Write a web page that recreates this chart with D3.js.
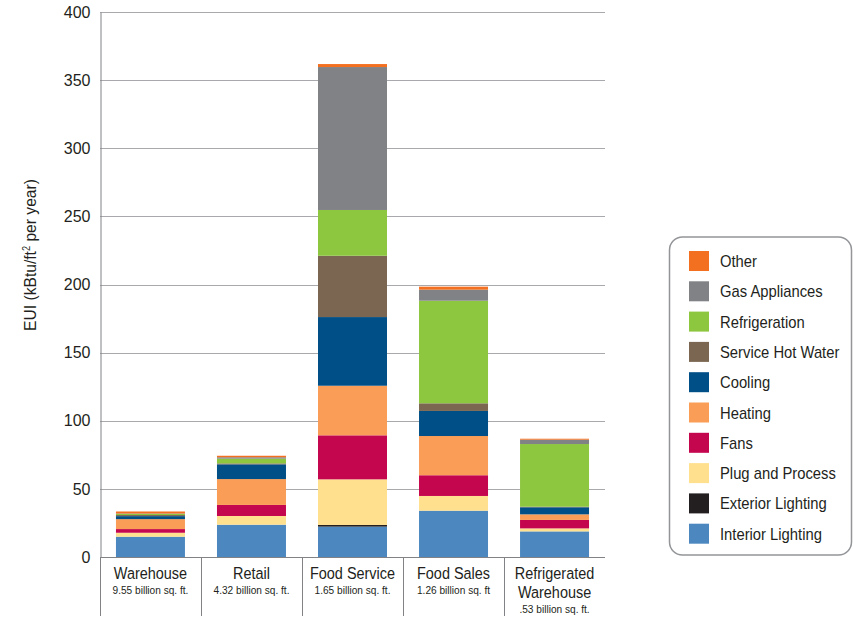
<!DOCTYPE html>
<html>
<head>
<meta charset="utf-8">
<script src="https://cdn.jsdelivr.net/npm/d3@7"></script>
<style>
  html, body { margin: 0; padding: 0; background: #fff; }
  svg { display: block; }
  text { font-family: "Liberation Sans", Arial, Helvetica, sans-serif; }
</style>
</head>
<body>
<svg id="chart" width="853" height="618"></svg>
<script>
// Building types and their floor area notes
const categories = ["Warehouse", "Retail", "Food Service", "Food Sales", "Refrigerated Warehouse"];
const categoryLines = [["Warehouse"], ["Retail"], ["Food Service"], ["Food Sales"], ["Refrigerated", "Warehouse"]];
const floorArea = ["9.55 billion sq. ft.", "4.32 billion sq. ft.", "1.65 billion sq. ft.", "1.26 billion sq. ft", ".53 billion sq. ft."];

// End uses, stacked bottom to top
const endUses = ["Interior Lighting", "Exterior Lighting", "Plug and Process", "Fans", "Heating",
                 "Cooling", "Service Hot Water", "Refrigeration", "Gas Appliances", "Other"];
const endUseColors = ["#4c88bf", "#231f20", "#ffe08f", "#c4064f", "#f99d57",
                      "#004f86", "#7a6651", "#8dc63f", "#808285", "#f37021"];

// EUI (kBtu/ft² per year) per end use, one value per building type
const interiorLighting = [14.9, 23.7, 22.3, 34.0, 18.8];
const exteriorLighting = [0.0, 0.0, 1.2, 0.0, 0.0];
const plugAndProcess   = [2.9, 6.4, 33.5, 10.8, 2.2];
const fans             = [2.7, 8.1, 32.3, 15.2, 6.2];
const heating          = [7.3, 19.0, 36.4, 28.8, 4.1];
const cooling          = [2.2, 10.8, 50.4, 18.4, 5.2];
const serviceHotWater  = [0.8, 0.7, 45.0, 5.6, 0.4];
const refrigeration    = [0.8, 3.5, 33.6, 75.3, 46.0];
const gasAppliances    = [0.3, 1.0, 104.9, 8.1, 3.2];
const other            = [1.5, 1.1, 2.2, 2.2, 0.7];

const yTicks = [0, 50, 100, 150, 200, 250, 300, 350, 400];

const seriesValues = [interiorLighting, exteriorLighting, plugAndProcess, fans, heating,
                      cooling, serviceHotWater, refrigeration, gasAppliances, other];

const rows = categories.map((c, i) => {
  const r = { category: c };
  endUses.forEach((u, k) => { r[u] = seriesValues[k][i]; });
  return r;
});

const svg = d3.select("#chart");
const plotLeft = 100, plotRight = 605, plotTop = 12, plotBottom = 557;
const ink = "#231f20";

// Condensed text: regular face squeezed horizontally
function narrowText(parent, tx, ty, str, size, anchor, sx = 0.86) {
  return parent.append("text")
    .attr("transform", `translate(${tx},${ty}) scale(${sx},1)`)
    .attr("text-anchor", anchor)
    .attr("font-size", size)
    .attr("fill", ink)
    .text(str);
}

const x = d3.scaleBand().domain(categories).range([plotLeft, plotRight])
  .paddingInner(0.317).paddingOuter(0.158);
const y = d3.scaleLinear().domain([0, 400]).range([plotBottom, plotTop]);
const color = d3.scaleOrdinal().domain(endUses).range(endUseColors);

// Horizontal gridlines
svg.append("g")
  .selectAll("line").data(yTicks.filter(t => t > 0)).join("line")
  .attr("x1", plotLeft).attr("x2", plotRight)
  .attr("y1", d => Math.round(y(d)) + 0.5).attr("y2", d => Math.round(y(d)) + 0.5)
  .attr("stroke", "#a7a9ac").attr("stroke-width", 1);

// Y axis
const yAxis = svg.append("g")
  .attr("transform", `translate(${plotLeft + 0.5},0)`)
  .call(d3.axisLeft(y).tickValues(yTicks).tickSize(0).tickPadding(10));
yAxis.select(".domain").attr("stroke", "#808285");
yAxis.selectAll("text")
  .attr("font-family", "Liberation Sans, Arial, sans-serif")
  .attr("font-size", 16).attr("fill", ink);

// Y axis title
svg.append("text")
  .attr("transform", "translate(36,255) rotate(-90) scale(0.92,1)")
  .attr("text-anchor", "middle")
  .attr("font-size", 17).attr("fill", ink)
  .call(t => {
    t.append("tspan").text("EUI (kBtu/ft");
    t.append("tspan").attr("font-size", 10).attr("dy", -6).text("2");
    t.append("tspan").attr("dy", 6).text(" per year)");
  });

// Stacked bars
const stacked = d3.stack().keys(endUses)(rows);
svg.append("g")
  .selectAll("g").data(stacked).join("g")
  .attr("fill", d => color(d.key))
  .selectAll("rect").data(d => d).join("rect")
  .attr("x", d => x(d.data.category))
  .attr("width", x.bandwidth())
  .attr("y", d => y(d[1]))
  .attr("height", d => Math.max(0, y(d[0]) - y(d[1])));

// Baseline and category dividers
svg.append("line")
  .attr("x1", plotLeft).attr("x2", plotRight)
  .attr("y1", plotBottom + 0.5).attr("y2", plotBottom + 0.5)
  .attr("stroke", "#808285");
const step = x.step();
svg.append("g")
  .selectAll("line").data(d3.range(5)).join("line")
  .attr("x1", i => Math.round(plotLeft + i * step) + 0.5)
  .attr("x2", i => Math.round(plotLeft + i * step) + 0.5)
  .attr("y1", plotBottom).attr("y2", 616)
  .attr("stroke", "#808285");

// Category labels
const labels = svg.append("g");
categories.forEach((c, i) => {
  const cx = x(c) + x.bandwidth() / 2;
  const lines = categoryLines[i];
  lines.forEach((ln, j) => narrowText(labels, cx, 579 + j * 19, ln, 17, "middle", 0.85));
  narrowText(labels, cx, 579 + (lines.length - 1) * 19 + 15, floorArea[i], 11.5, "middle", 0.88);
});

// Legend
const legend = svg.append("g");
legend.append("rect")
  .attr("x", 669.5).attr("y", 237).attr("width", 182).attr("height", 318)
  .attr("rx", 13).attr("ry", 13)
  .attr("fill", "#fff").attr("stroke", "#939598").attr("stroke-width", 1.5);
const legendOrder = endUses.slice().reverse();
const items = legend.selectAll("g.item").data(legendOrder).join("g")
  .attr("class", "item")
  .attr("transform", (d, i) => `translate(689,${251 + i * 30.3})`);
items.append("rect")
  .attr("width", 20).attr("height", 20)
  .attr("fill", d => color(d));
items.each(function (d) {
  narrowText(d3.select(this), 31, 16, d, 17, "start", 0.87);
});
</script>
</body>
</html>
